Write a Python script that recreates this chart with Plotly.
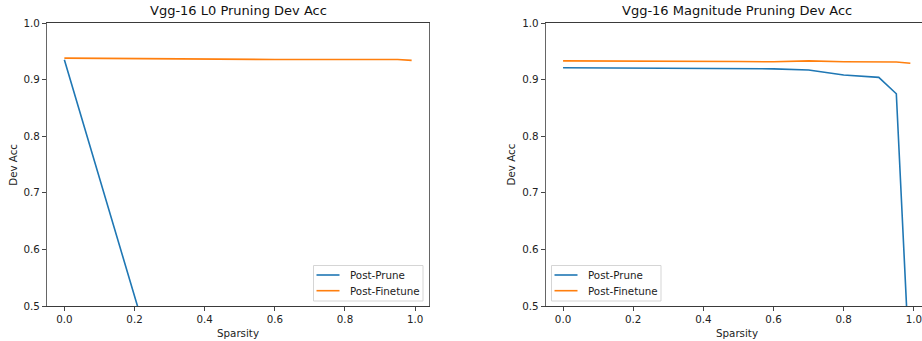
import plotly.graph_objects as go

# Sparsity levels evaluated
sparsity = [0.0, 0.1, 0.2, 0.3, 0.4, 0.5, 0.6, 0.7, 0.8, 0.9, 0.95, 0.99]

# L0 pruning: accuracy collapses to chance after the first pruning step
l0_sparsity_prune = [0.0, 0.4, 0.5, 0.6, 0.7, 0.8, 0.9, 0.95, 0.99]
l0_post_prune = [0.935, 0.10, 0.10, 0.10, 0.10, 0.10, 0.10, 0.10, 0.10]
l0_post_finetune = [0.938, 0.9375, 0.937, 0.936, 0.9355, 0.935, 0.9355, 0.9355, 0.936, 0.936, 0.9355, 0.934]

# Magnitude pruning
mag_post_prune = [0.921, 0.9205, 0.920, 0.9198, 0.9195, 0.919, 0.919, 0.917, 0.908, 0.904, 0.875, 0.36]
mag_post_finetune = [0.933, 0.933, 0.9328, 0.9325, 0.9325, 0.932, 0.9315, 0.933, 0.9315, 0.931, 0.931, 0.929]

titles = ["Vgg-16 L0 Pruning Dev Acc", "Vgg-16 Magnitude Pruning Dev Acc"]
series_names = ["Post-Prune", "Post-Finetune"]
y_ticks = [0.5, 0.6, 0.7, 0.8, 0.9, 1.0]
x_ticks = [0.0, 0.2, 0.4, 0.6, 0.8, 1.0]

BLUE = "#1f77b4"
ORANGE = "#ff7f0e"
COLORS = [BLUE, ORANGE]
FONT = "DejaVu Sans"
TEXT = "#222222"
W, H = 922, 341


def px(x):
    return x / W


def py(y):
    return 1 - y / H


fig = go.Figure()
fig.add_trace(go.Scatter(x=l0_sparsity_prune, y=l0_post_prune, mode="lines", name=series_names[0],
                         line=dict(color=BLUE, width=1.6), xaxis="x", yaxis="y", showlegend=False))
fig.add_trace(go.Scatter(x=sparsity, y=l0_post_finetune, mode="lines", name=series_names[1],
                         line=dict(color=ORANGE, width=1.6), xaxis="x", yaxis="y", showlegend=False))
fig.add_trace(go.Scatter(x=sparsity, y=mag_post_prune, mode="lines", name=series_names[0],
                         line=dict(color=BLUE, width=1.6), xaxis="x2", yaxis="y2", showlegend=False))
fig.add_trace(go.Scatter(x=sparsity, y=mag_post_finetune, mode="lines", name=series_names[1],
                         line=dict(color=ORANGE, width=1.6), xaxis="x2", yaxis="y2", showlegend=False))

# axes boxes in pixels (the right panel runs past the page edge)
left_box = (47, 429)
right_box = (545.7, 928)
y_top, y_bot = 23, 306
ydom = [py(y_bot), py(y_top)]

axis_common = dict(
    showgrid=False, zeroline=False, showline=True, linewidth=1,
    ticks="outside", ticklen=4, tickwidth=1, tickcolor="#444444",
    tickfont=dict(family=FONT, size=10.3, color=TEXT), automargin=False,
    ticklabeloverflow="allow",
)

fig.update_layout(
    width=W, height=H,
    margin=dict(l=0, r=0, t=0, b=0),
    paper_bgcolor="white", plot_bgcolor="white",
    font=dict(family=FONT, size=10.3, color=TEXT),
    showlegend=False,
    xaxis=dict(domain=[px(left_box[0]), px(left_box[1])], range=[-0.0495, 1.0395],
               tickvals=x_ticks, tickformat=".1f", mirror=True, anchor="y",
               linecolor="#3a3a3a", **axis_common),
    yaxis=dict(domain=ydom, range=[0.5, 1.0], tickvals=y_ticks, tickformat=".1f",
               mirror=True, anchor="x", linecolor="#666666", **axis_common),
    xaxis2=dict(domain=[px(right_box[0]), 1.0],
                range=[-0.0495, -0.0495 + (922 - right_box[0]) / 350.8],
                tickvals=x_ticks, tickformat=".1f", mirror=True, anchor="y2",
                linecolor="#3a3a3a", **axis_common),
    yaxis2=dict(domain=ydom, range=[0.5, 1.0], tickvals=y_ticks, tickformat=".1f",
                mirror=False, anchor="x2", linecolor="#666666", **axis_common),
)

annotations = []
shapes = []
ylabel_x = [12.3, 510]
legend_x0 = [313.5, 551.5]
for i, box in enumerate([left_box, right_box]):
    cx = (box[0] + box[1]) / 2
    annotations.append(dict(text=titles[i], x=px(cx), y=py(11), xref="paper", yref="paper",
                            xanchor="center", yanchor="middle", showarrow=False,
                            font=dict(family=FONT, size=13, color="#111111")))
    annotations.append(dict(text="Sparsity", x=px(cx), y=py(333), xref="paper", yref="paper",
                            xanchor="center", yanchor="middle", showarrow=False,
                            font=dict(family=FONT, size=10.3, color=TEXT)))
    annotations.append(dict(text="Dev Acc", x=px(ylabel_x[i]), y=py((y_top + y_bot) / 2),
                            xref="paper", yref="paper", xanchor="center", yanchor="middle",
                            textangle=-90, showarrow=False,
                            font=dict(family=FONT, size=10.3, color=TEXT)))

    # legend frame with two entries
    lx = legend_x0[i]
    shapes.append(dict(type="rect", xref="paper", yref="paper",
                       x0=px(lx), x1=px(lx + 109.5), y0=py(301), y1=py(265.5),
                       line=dict(color="#d5d5d5", width=1), fillcolor="rgba(255,255,255,0.8)",
                       layer="above"))
    for j, name in enumerate(series_names):
        ly = 275 + 15.7 * j
        shapes.append(dict(type="line", xref="paper", yref="paper",
                           x0=px(lx + 3), x1=px(lx + 26), y0=py(ly), y1=py(ly),
                           line=dict(color=COLORS[j], width=1.6), layer="above"))
        annotations.append(dict(text=name, x=px(lx + 34), y=py(ly), xref="paper", yref="paper",
                                xanchor="left", yanchor="middle", showarrow=False,
                                font=dict(family=FONT, size=10.3, color=TEXT)))

fig.update_layout(annotations=annotations, shapes=shapes)

fig.write_html("out.html")
